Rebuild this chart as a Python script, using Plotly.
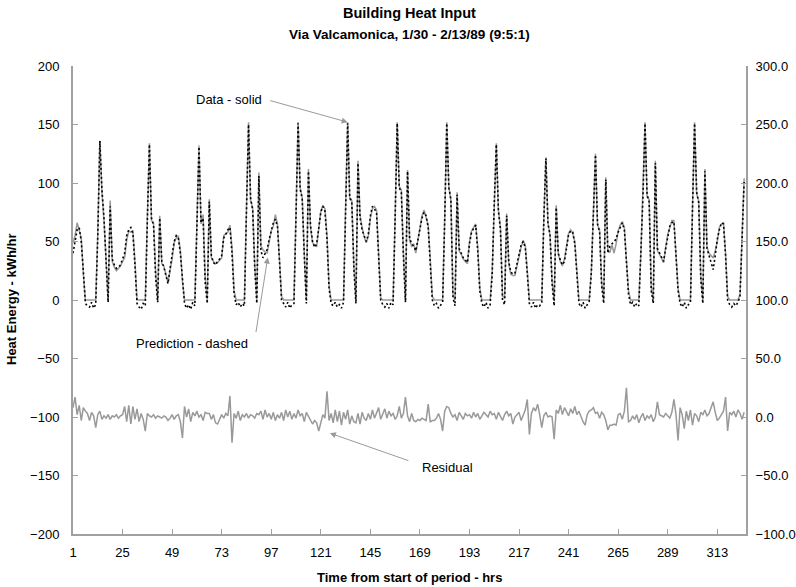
import plotly.graph_objects as go

# ---------------- data (hourly values, hours 1..326) ----------------
hours = list(range(1, 327))

heat_data = [
    49, 55, 66, 60, 53, 22, 0, 0, 0, 0, 0, 0, 57,
    136,
    92, 68, 35, 0, 85, 33, 28, 25, 27, 29, 33, 36, 51, 59, 58, 59, 33, 0, 0, 0, 0, 0, 70,
    134,
    68, 66, 25, 0, 72, 31, 29, 22, 15, 25, 35, 49, 53, 55, 42, 16, 0, 0, 0, 0, 0, 0, 65,
    132,
    65, 73, 20, 0, 86, 36, 33, 31, 32, 34, 36, 55, 57, 58, 64, 45, 8, 0, 0, 0, 0, 0, 78,
    152,
    85, 79, 30, 0, 109, 46, 43, 41, 40, 50, 59, 63, 73, 65, 36, 3, 0, 0, 0, 0, 0, 0, 75,
    152,
    96, 88, 40, 0, 112, 62, 49, 47, 46, 62, 76, 81, 78, 55, 12, 0, 0, 0, 0, 0, 0, 0, 80,
    152,
    86, 85, 30, 0, 119, 73, 62, 54, 49, 54, 70, 78, 80, 77, 40, 2, 0, 0, 0, 0, 0, 0, 72,
    152,
    97, 94, 40, 0, 111, 51, 46, 48, 40, 50, 59, 72, 77, 71, 64, 35, 3, 0, 0, 0, 0, 0, 70,
    152,
    97, 85, 5, 0, 92, 42, 39, 35, 33, 31, 50, 59, 62, 65, 45, 10, 0, 0, 0, 0, 0, 25, 85,
    134,
    77, 62, 3, 2, 74, 31, 22, 21, 21, 30, 39, 45, 51, 47, 25, 0, 0, 0, 0, 0, 0, 0, 70,
    122,
    66, 55, 16, 0, 81, 39, 33, 29, 35, 45, 57, 60, 57, 50, 25, 0, 0, 0, 0, 0, 0, 25, 80,
    125,
    64, 60, 15, 0, 105, 42, 41, 47, 40, 48, 59, 64, 67, 62, 34, 8, 0, 0, 0, 0, 0, 40, 90,
    152,
    88, 86, 11, 0, 119, 42, 39, 35, 32, 45, 56, 62, 68, 68, 40, 10, 0, 0, 0, 0, 0, 0, 80,
    152,
    91, 85, 20, 0, 112, 45, 40, 38, 36, 42, 50, 62, 65, 66, 40, 3, 0, 0, 0, 0, 0, 5, 60,
    104,
]

heat_prediction = [
    40, 50, 60, 62, 50, 25, -3, -5, -6, -2, -7, -4, 55,
    136,
    95, 70, 30, -2, 80, 35, 30, 27, 28, 30, 35, 40, 55, 60, 62, 57, 30, -3, -6, -8, -3, -5, 68,
    133,
    70, 64, 20, -2, 70, 33, 28, 20, 14, 27, 38, 50, 55, 53, 40, 14, -3, -7, -4, -8, -2, -5, 62,
    131,
    66, 70, 15, -3, 84, 38, 32, 30, 33, 35, 38, 53, 56, 60, 62, 40, 5, -4, -2, -6, -3, -5, 76,
    150,
    87, 77, 28, -3, 106, 42, 36, 40, 43, 52, 60, 66, 69, 63, 33, 0, -3, -6, -2, -7, -4, -3, 73,
    151,
    95, 86, 38, -3, 110, 64, 50, 45, 48, 60, 75, 80, 76, 52, 10, -3, -5, -2, -6, -4, -7, -2, 78,
    151,
    88, 84, 28, -3, 117, 70, 60, 55, 50, 56, 72, 80, 78, 74, 38, 0, -4, -6, -3, -7, -2, -4, 70,
    151,
    96, 92, 38, -2, 110, 53, 48, 46, 42, 52, 60, 70, 75, 72, 62, 33, 0, -5, -3, -7, -4, -2, 68,
    151,
    96, 86, 2, -5, 90, 44, 40, 36, 34, 32, 48, 58, 61, 64, 42, 8, -3, -6, -2, -7, -4, 22, 83,
    133,
    76, 60, 0, -4, 72, 33, 24, 22, 23, 32, 40, 47, 50, 45, 22, -3, -6, -2, -7, -4, -5, -2, 68,
    121,
    65, 56, 14, -5, 79, 40, 34, 30, 33, 44, 56, 59, 58, 48, 22, -3, -6, -2, -7, -4, -1, 23, 78,
    124,
    65, 58, 12, -3, 103, 40, 46, 48, 50, 52, 58, 62, 66, 60, 32, 5, -4, -2, -6, -3, -5, 38, 88,
    151,
    90, 84, 8, -3, 117, 44, 40, 36, 33, 44, 55, 63, 66, 67, 38, 8, -3, -6, -2, -7, -4, -2, 78,
    151,
    92, 83, 18, -3, 110, 44, 38, 32, 26, 38, 52, 60, 66, 65, 38, 0, -4, -6, -3, -5, -2, 3, 58,
    102,
]

residual = [
    8, 17, 2, 10, -3, 8, 5, 3, -3, 4, 1, -9, 2, 5, -2, 1, -1, 2, -2, 1, 0, 2, -1, 1,
    2, 9, -4, 10, -6, 9, -2, 7, -4, 3, -2, -12, 3, 1, 0, 2, -1, 1, 0, -1, 1, 0, -3, -1,
    2, -2, 1, 2, -4, -18, 9, 0, 7, -4, 4, 1, 5, 0, 2, -3, 4, 3, 3, -2, 2, -5, -6, -2,
    2, -1, 3, 1, 18, -22, 3, -1, 5, -3, 2, 0, 3, -1, 2, 1, -1, 3, 2, 5, -2, 6, 0, 3,
    -2, 4, -3, 2, -1, 4, -3, 6, 0, 5, -2, 3, -1, 6, 1, 3, -4, 4, 1, -2, -6, -3, -5, -12,
    -4, 2, -1, 22, -3, 3, -5, 6, -4, 5, -7, 4, -2, 6, -6, 1, -4, -5, 3, -6, 4, -1, -3, 3,
    -2, 6, -1, 4, 8, -2, 3, 7, -1, 5, 1, 3, -2, 1, 9, -1, 3, 17, 1, -4, 3, -3, -4, -2,
    -3, -1, -2, -3, 11, -4, -3, -3, -1, 3, -2, -12, 5, 9, 8, 3, 0, 2, -3, 4, 1, -2, 3, 1,
    2, -1, 4, 0, 3, -2, 1, 4, 2, 0, 5, 2, 3, -2, 4, 1, -3, 2, 5, 1, 3, -6, 0, 2,
    4, -3, 1, 6, 15, -15, 3, 8, 5, 11, 2, -9, 1, 4, 0, 1, 0, -19, 6, 3, 10, 2, 8, 4,
    1, 7, 3, 9, 2, 5, 0, -4, -7, 2, 5, 6, 8, 3, 4, -1, 4, 2, -3, -11, -7, -7, -6, -7,
    2, 3, -2, 5, 25, -4, -3, 1, -2, 2, -5, 0, 3, -3, 1, -1, 2, -4, 0, 13, 2, 1, 0, 3,
    1, -1, 4, 15, 2, -20, 8, 2, -10, 5, -3, 6, -7, 3, 1, -4, 4, 2, 6, 1, 3, 8, 13, 4,
    -3, -1, 2, 5, 17, -12, 4, 2, 5, 0, 6, 3, -2, 4,
]

x_tick_vals = [1, 25, 49, 73, 97, 121, 145, 169, 193, 217, 241, 265, 289, 313]
left_ticks = [-200, -150, -100, -50, 0, 50, 100, 150, 200]
right_ticks = [-100, -50, 0, 50, 100, 150, 200, 250, 300]

title_line1 = "Building Heat Input"
title_line2 = "Via Valcamonica, 1/30 - 2/13/89 (9:5:1)"
x_title = "Time from start of period - hrs"
y_title = "Heat Energy - kWh/hr"

# ---------------- figure ----------------
FONT = "Liberation Sans, Arial, sans-serif"
GRAY_LINE = "#999999"
AXIS_GRAY = "#a0a0a0"

fig = go.Figure()
fig.add_trace(go.Scatter(x=hours, y=heat_data, mode="lines",
                         line=dict(color=GRAY_LINE, width=1.5), name="Data"))
fig.add_trace(go.Scatter(x=hours, y=heat_prediction, mode="lines",
                         line=dict(color="black", width=1.6, dash="2px,2.5px"), name="Prediction"))
fig.add_trace(go.Scatter(x=hours, y=residual, mode="lines", yaxis="y2",
                         line=dict(color=GRAY_LINE, width=1.5), name="Residual"))

axis_common = dict(showgrid=False, zeroline=False, showline=True, linecolor=AXIS_GRAY,
                   linewidth=2, ticks="inside", ticklen=5, tickcolor=AXIS_GRAY, tickwidth=1,
                   automargin=False,
                   tickfont=dict(family=FONT, size=13, color="black"))

fig.update_layout(
    width=796, height=587, autosize=False,
    margin=dict(l=73, r=50, t=66, b=53, autoexpand=False),
    paper_bgcolor="white", plot_bgcolor="white",
    showlegend=False, hovermode=False,
    xaxis=dict(range=[1, 326.9], tickmode="array", tickvals=x_tick_vals,
               ticklabelstandoff=5, **axis_common),
    yaxis=dict(range=[-200, 200], tickmode="array", tickvals=left_ticks,
               ticklabelstandoff=9, **axis_common),
    yaxis2=dict(range=[-100, 300], tickmode="array", tickvals=right_ticks, tickformat=".1f",
                overlaying="y", side="right", ticklabelstandoff=5, **axis_common),
)

ann_font = dict(family=FONT, size=13, color="black")
annotations = [
    dict(text="<b>" + title_line1 + "</b>", xref="paper", yref="paper", x=0.5, y=1,
         yanchor="middle", yshift=53, showarrow=False, font=dict(family=FONT, size=14.5, color="black")),
    dict(text="<b>" + title_line2 + "</b>", xref="paper", yref="paper", x=0.5, y=1,
         yanchor="middle", yshift=32, showarrow=False, font=dict(family=FONT, size=13.5, color="black")),
    dict(text="<b>" + x_title + "</b>", xref="paper", yref="paper", x=0.5, y=0,
         yanchor="middle", yshift=-43, showarrow=False, font=dict(family=FONT, size=13, color="black")),
    dict(text="<b>" + y_title + "</b>", xref="paper", yref="paper", x=0, y=0.5,
         xanchor="center", xshift=-62, textangle=-90, showarrow=False,
         font=dict(family=FONT, size=13, color="black")),
    # labels
    dict(text="Data - solid", xref="x", yref="y", x=76.4, y=171.7, showarrow=False, font=ann_font),
    dict(text="Prediction - dashed", xref="x", yref="y", x=58.5, y=-37.5, showarrow=False, font=ann_font),
    dict(text="Residual", xref="x", yref="y", x=182.5, y=-142.9, showarrow=False, font=ann_font),
    # arrows
    dict(text="", xref="x", yref="y", x=134, y=152, ax=-79, ay=-22, showarrow=True,
         arrowhead=2, arrowsize=1.2, arrowwidth=1, arrowcolor="#9a9a9a"),
    dict(text="", xref="x", yref="y", x=95.3, y=36.3, ax=-12, ay=76, showarrow=True,
         arrowhead=2, arrowsize=1.2, arrowwidth=1, arrowcolor="#9a9a9a"),
    dict(text="", xref="x", yref="y", x=125.4, y=-113.8, ax=80, ay=28, showarrow=True,
         arrowhead=2, arrowsize=1.2, arrowwidth=1, arrowcolor="#9a9a9a"),
]
fig.update_layout(annotations=annotations)

fig.write_html("out.html")
